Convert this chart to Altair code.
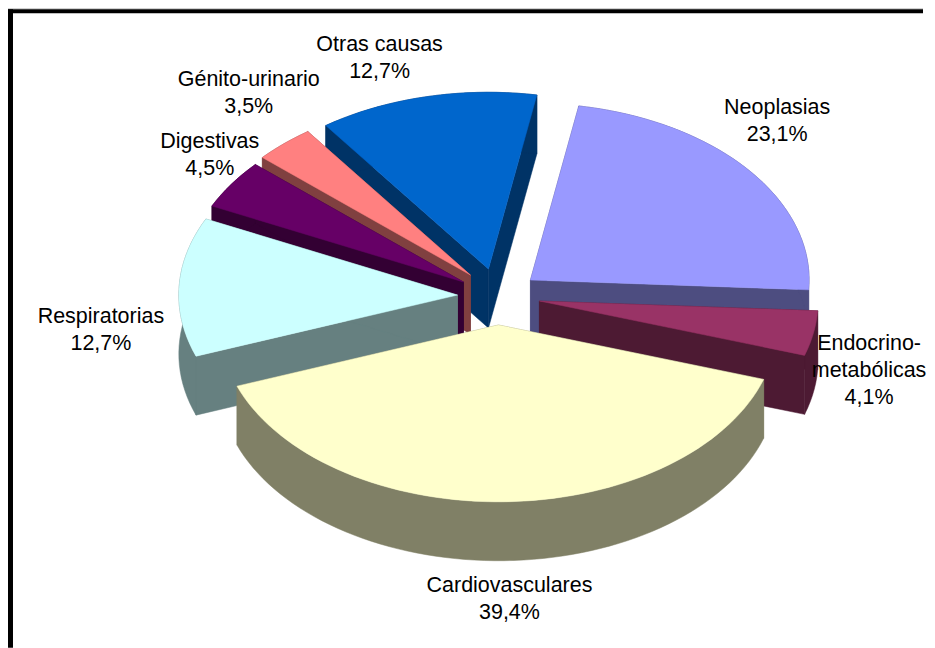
import math
import altair as alt
import pandas as pd

# --- data ---
CATEGORIES = ["Neoplasias", "Endocrino-metabólicas", "Cardiovasculares", "Respiratorias",
              "Digestivas", "Génito-urinario", "Otras causas"]
VALUES = [23.1, 4.1, 39.4, 12.7, 4.5, 3.5, 12.7]
VALUE_LABELS = ["23,1%", "4,1%", "39,4%", "12,7%", "4,5%", "3,5%", "12,7%"]

# --- styling / layout ---
TOP_COLORS = ["#9999FF", "#993366", "#FFFFCC", "#CCFFFF", "#660066", "#FF8080", "#0066CC"]
SIDE_COLORS = ["#4D4D80", "#4D1A33", "#808066", "#668080", "#330033", "#804040", "#003366"]
APEX = [(531, 280), (540, 301), (499, 325), (458, 295), (464, 282), (471, 275), (489, 269)]
DRAW_ORDER = [6, 5, 4, 0, 1, 3, 2]
START_DEG = 10.0
RX, RY, DEPTH = 279.0, 177.0, 59.0
W, H = 916, 640
X_SCALE = alt.Scale(domain=[8, 8 + W], range=[0, W], nice=False, zero=False)
Y_SCALE = alt.Scale(domain=[8, 8 + H], range=[0, H], nice=False, zero=False)
FONT = "Liberation Sans"
FSIZE = 21.5
LABEL_LINES = {
    0: (["Neoplasias", VALUE_LABELS[0]], 778, 108),
    1: (["Endocrino-", "metabólicas", VALUE_LABELS[1]], 870, 344),
    2: (["Cardiovasculares", VALUE_LABELS[2]], 510, 586),
    3: (["Respiratorias", VALUE_LABELS[3]], 101, 317),
    4: (["Digestivas", VALUE_LABELS[4]], 210, 142),
    5: (["Génito-urinario", VALUE_LABELS[5]], 249, 80),
    6: (["Otras causas", VALUE_LABELS[6]], 380, 45),
}
LINE_H = 27

X = alt.X("x:Q", scale=X_SCALE, axis=None)
Y = alt.Y("y:Q", scale=Y_SCALE, axis=None)


def rim(i, t):
    ax, ay = APEX[i]
    r = math.radians(t)
    return (ax + RX * math.sin(r), ay - RY * math.cos(r))


def poly(points, color):
    closed = list(points) + [points[0]]
    df = pd.DataFrame({"x": [p[0] for p in closed], "y": [p[1] for p in closed],
                       "o": list(range(len(closed)))})
    return alt.Chart(df).mark_line(fill=color, stroke=color, strokeWidth=0.5, clip=True).encode(
        x=X, y=Y, order="o:O")


def down(p):
    return (p[0], p[1] + DEPTH)


layers = []
edges = []
acc = START_DEG
for v in VALUES:
    edges.append((acc, acc + v * 3.6))
    acc += v * 3.6

for i in DRAW_ORDER:
    t0, t1 = edges[i]
    apex = APEX[i]
    n = max(4, int((t1 - t0) / 2))
    arc = [rim(i, t0 + (t1 - t0) * k / n) for k in range(n + 1)]
    # radial walls, outer wall, then the top face
    layers.append(poly([apex, arc[0], down(arc[0]), down(apex)], SIDE_COLORS[i]))
    layers.append(poly([apex, arc[-1], down(arc[-1]), down(apex)], SIDE_COLORS[i]))
    layers.append(poly(arc + [down(p) for p in reversed(arc)], SIDE_COLORS[i]))
    layers.append(poly([apex] + arc, TOP_COLORS[i]))

rows = []
for i, (lines, cx, cy) in LABEL_LINES.items():
    for k, line in enumerate(lines):
        rows.append({"x": cx, "y": cy + k * LINE_H, "t": line})
labels = alt.Chart(pd.DataFrame(rows)).mark_text(
    font=FONT, fontSize=FSIZE, color="black", align="center", baseline="middle"
).encode(x=X, y=Y, text="t:N")

frame_df = pd.DataFrame([
    {"x": 8, "x2": 8 + W, "y": 8, "y2": 9, "c": "#c0c0c0"},
    {"x": 8, "x2": 8 + W, "y": 9, "y2": 13, "c": "#000000"},
    {"x": 8, "x2": 13, "y": 9, "y2": 8 + H, "c": "#000000"},
])
frame = alt.Chart(frame_df).mark_rect().encode(
    x=X, y=Y, x2="x2:Q", y2="y2:Q", color=alt.Color("c:N", scale=None))

chart = alt.layer(*layers, labels, frame).properties(
    width=W, height=H, padding=0,
    background="white",
).configure_view(stroke=None)

chart.save("out.html", embed_options={"renderer": "svg", "actions": False})
